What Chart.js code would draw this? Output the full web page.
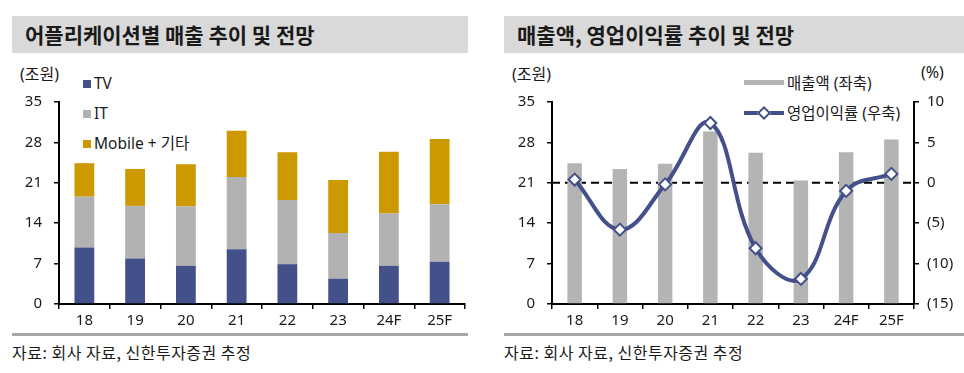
<!DOCTYPE html>
<html>
<head>
<meta charset="utf-8">
<script src="https://cdn.jsdelivr.net/npm/chart.js@4/dist/chart.umd.min.js"></script>
<style>
  body { margin: 0; background: #fff; font-family: "Noto Sans", "Noto Sans CJK KR", sans-serif; color: #1a1a1a; }
  #wrap { position: relative; width: 964px; height: 373px; overflow: hidden; }
  .bar { position: absolute; top: 16px; height: 37px; background: #d9d9d9; }
  .title { position: absolute; top: 0; left: 13px; line-height: 37px; font-size: 21px; font-weight: 700; letter-spacing: 0; font-family: "Noto Sans CJK KR", sans-serif; white-space: nowrap; }
  .unit { position: absolute; top: 61px; font-size: 16px; white-space: nowrap; }
  .leg { position: absolute; font-size: 15.5px; line-height: 18px; white-space: nowrap; }
  .sw { display: inline-block; width: 8px; height: 8px; margin-right: 3px; vertical-align: 1px; }
  .sep { position: absolute; top: 333px; height: 3px; background: #a6a6a6; }
  .src { position: absolute; top: 340px; font-size: 16px; letter-spacing: 0.5px; white-space: nowrap; font-family: "Noto Sans CJK KR", sans-serif; }
  canvas { position: absolute; top: 60px; }
</style>
</head>
<body>
<div id="wrap">
  <div class="bar" style="left:12px;width:456px"><div class="title">어플리케이션별 매출 추이 및 전망</div></div>
  <div class="bar" style="left:504px;width:460px"><div class="title">매출액, 영업이익률 추이 및 전망</div></div>

  <div class="unit" style="left:20px">(조원)</div>
  <div class="unit" style="left:512px">(조원)</div>
  <div class="unit" style="left:921px">(%)</div>

  <div class="leg" style="left:83px;top:74px"><span class="sw" style="background:#43508a"></span>TV</div>
  <div class="leg" style="left:83px;top:104px"><span class="sw" style="background:#b2b2b2"></span>IT</div>
  <div class="leg" style="left:83px;top:134px"><span class="sw" style="background:#cc9900"></span>Mobile + 기타</div>

  <div class="leg" style="left:744px;top:74px"><span style="display:inline-block;width:40px;height:5px;background:#b4b4b4;vertical-align:4px;margin-right:3px"></span>매출액 (좌축)</div>
  <div class="leg" style="left:744px;top:104px"><span style="position:relative;display:inline-block;width:40px;height:4px;background:#43508a;vertical-align:4px;margin-right:3px"><span style="position:absolute;left:15px;top:-3px;width:6px;height:6px;background:#fff;border:2px solid #43508a;transform:rotate(45deg);box-sizing:content-box"></span></span>영업이익률 (우축)</div>

  <canvas id="c1" width="480" height="270" style="left:0"></canvas>
  <canvas id="c2" width="480" height="270" style="left:484px"></canvas>

  <div class="sep" style="left:12px;width:456px"></div>
  <div class="sep" style="left:504px;width:460px"></div>
  <div class="src" style="left:12px">자료: 회사 자료, 신한투자증권 추정</div>
  <div class="src" style="left:504px">자료: 회사 자료, 신한투자증권 추정</div>
</div>
<script>
const years = ["18", "19", "20", "21", "22", "23", "24F", "25F"];
// 어플리케이션별 매출 (조원)
const tv = [9.8, 7.9, 6.6, 9.5, 6.9, 4.4, 6.6, 7.3];
const it = [8.8, 9.1, 10.3, 12.5, 11.1, 7.9, 9.1, 10.0];
const mobile = [5.8, 6.4, 7.3, 8.0, 8.3, 9.2, 10.7, 11.3];
// 매출액 (조원), 영업이익률 (%)
const sales = [24.4, 23.4, 24.3, 29.9, 26.2, 21.4, 26.3, 28.5];
const opMargin = [0.4, -5.8, -0.2, 7.4, -8.1, -11.9, -1.0, 1.1];

const tickFont = { family: "'Noto Sans', 'Noto Sans CJK KR', sans-serif", size: 15 };
const navy = "#43508a";

function fixW(w) { return s => { s.width = w; }; }
function fixH(h) { return s => { s.height = h; }; }

function xAxis() {
  return {
    grid: { display: true, drawOnChartArea: false, drawTicks: true, tickLength: 5, color: "#000", lineWidth: 1.5, offset: true },
    border: { display: true, color: "#000", width: 2 },
    ticks: { color: "#1a1a1a", font: tickFont, padding: 3 },
    afterFit: fixH(26)
  };
}

function yAxis(pos, min, max, step, w, fmt) {
  return {
    position: pos,
    min: min, max: max,
    grid: { display: true, drawOnChartArea: false, drawTicks: true, tickLength: 5, color: "#000", lineWidth: 1.5 },
    border: { display: true, color: "#000", width: 2 },
    ticks: { stepSize: step, color: "#1a1a1a", font: tickFont, padding: pos === "left" ? 12 : 8, callback: fmt },
    afterFit: fixW(w)
  };
}

new Chart(document.getElementById("c1"), {
  type: "bar",
  data: {
    labels: years,
    datasets: [
      { label: "TV", data: tv, backgroundColor: navy },
      { label: "IT", data: it, backgroundColor: "#b2b2b2" },
      { label: "Mobile + 기타", data: mobile, backgroundColor: "#cc9900" }
    ].map(d => Object.assign(d, { barPercentage: 0.39, categoryPercentage: 1, borderWidth: 0 }))
  },
  options: {
    responsive: false,
    animation: false,
    layout: { padding: { top: 42, right: 15, left: 0, bottom: 0 } },
    plugins: { legend: { display: false }, tooltip: { enabled: false } },
    scales: {
      x: Object.assign(xAxis(), { stacked: true }),
      y: Object.assign(yAxis("left", 0, 35, 7, 59), { stacked: true })
    }
  }
});

// 0% 기준 점선
const zeroLine = {
  id: "zeroLine",
  beforeDatasetsDraw(chart) {
    const { ctx, chartArea } = chart;
    const y = chart.scales.y1.getPixelForValue(0);
    ctx.save();
    ctx.strokeStyle = "#000";
    ctx.lineWidth = 2;
    ctx.setLineDash([8, 5]);
    ctx.beginPath();
    ctx.moveTo(chartArea.left, y);
    ctx.lineTo(chartArea.right, y);
    ctx.stroke();
    ctx.restore();
  }
};

new Chart(document.getElementById("c2"), {
  type: "bar",
  data: {
    labels: years,
    datasets: [
      {
        type: "line", label: "영업이익률 (우축)", data: opMargin, yAxisID: "y1",
        borderColor: navy, borderWidth: 4, tension: 0.4,
        pointStyle: "rectRot", pointRadius: 6, pointBackgroundColor: "#fff",
        pointBorderColor: navy, pointBorderWidth: 2, order: 0
      },
      {
        label: "매출액 (좌축)", data: sales, yAxisID: "y", backgroundColor: "#b4b4b4",
        barPercentage: 0.32, categoryPercentage: 1, borderWidth: 0, order: 1
      }
    ]
  },
  options: {
    responsive: false,
    animation: false,
    layout: { padding: { top: 42, right: 0, left: 0, bottom: 0 } },
    plugins: { legend: { display: false }, tooltip: { enabled: false } },
    scales: {
      x: xAxis(),
      y: yAxis("left", 0, 35, 7, 68),
      y1: yAxis("right", -15, 10, 5, 50, v => v < 0 ? "(" + (-v) + ")" : v)
    }
  },
  plugins: [zeroLine]
});
</script>
</body>
</html>
